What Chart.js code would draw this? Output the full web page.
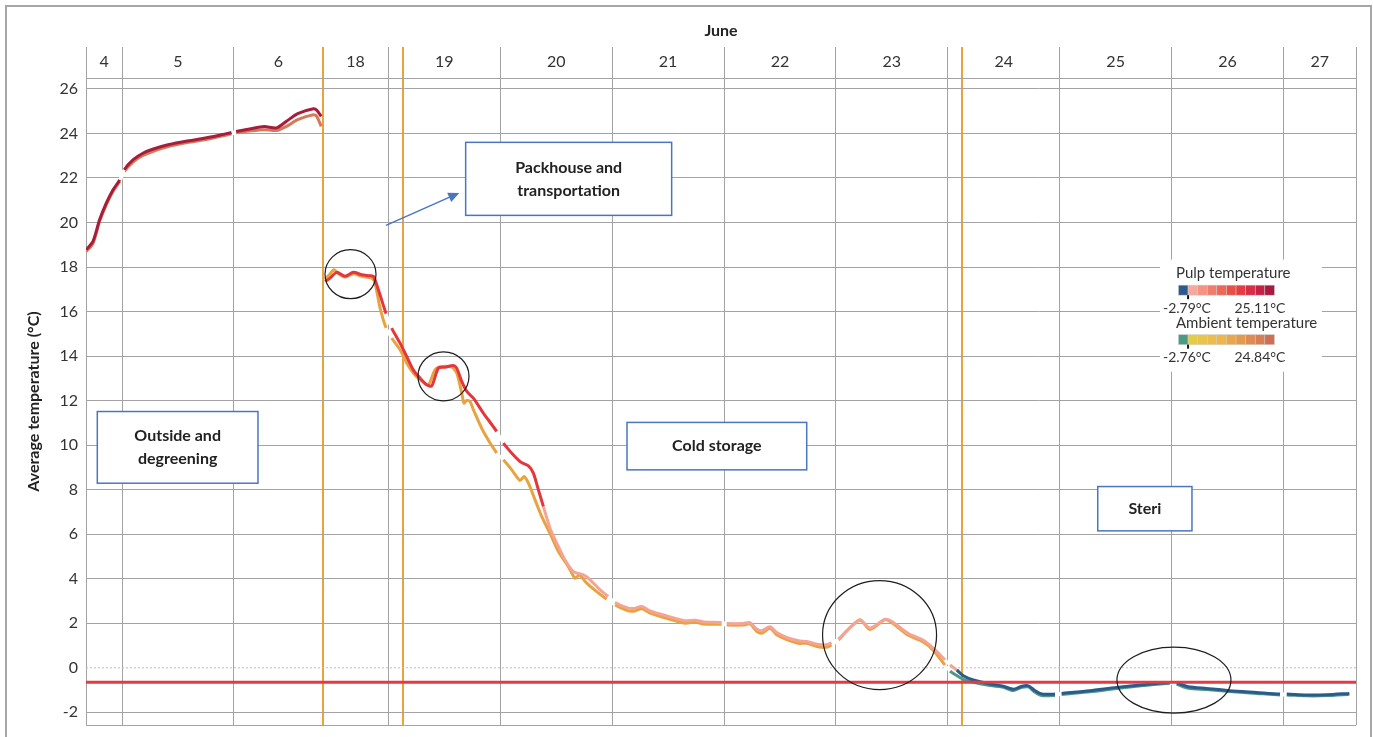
<!DOCTYPE html>
<html>
<head>
<meta charset="utf-8">
<script src="https://cdn.jsdelivr.net/npm/chart.js@4.4.1/dist/chart.umd.min.js"></script>
<style>
  html, body { margin: 0; padding: 0; background: #fff; overflow: hidden; }
  #wrap { position: relative; width: 1373px; height: 737px; }
  #frame { position: absolute; left: 5px; top: 5px; width: 1363px; height: 760px; border: 2px solid #a6a6a6; pointer-events: none; }
</style>
</head>
<body>
<div id="wrap">
  <canvas id="chart"></canvas>
  <div id="frame"></div>
</div>
<script>
// days shown on the header row (June) and which part of each day is on the axis
const dayNumbers = [4, 5, 6, 18, 19, 20, 21, 22, 23, 24, 25, 26, 27];
const dayFrom = [0.678, 0, 0, 0.414, 0, 0, 0, 0, 0, 0, 0, 0, 0];
const dayTo = [1, 1, 0.794, 1, 1, 1, 1, 1, 1, 1, 1, 1, 0.648];

// phase change markers (June day.fraction)
const phaseTimes = [6.794, 19.131, 24.124];
const thresholdTemp = -0.65;
const yTicks = [-2, 0, 2, 4, 6, 8, 10, 12, 14, 16, 18, 20, 22, 24, 26];

// pulp temperature, June day.fraction -> °C
const pulpTimes = [4.68, 4.74, 4.80, 4.86, 4.92, 4.98, 5.02, 5.10, 5.19, 5.28, 5.42, 5.57, 5.72, 5.87, 5.98, 6.02, 6.14, 6.27, 6.38, 6.47, 6.57, 6.71, 6.74, 6.78,
  18.435, 18.479, 18.539, 18.613, 18.688, 18.763, 18.837, 18.867, 18.911, 18.980,
  19.030, 19.105, 19.164, 19.223, 19.283, 19.343, 19.388, 19.447, 19.507, 19.581, 19.611, 19.656, 19.701, 19.760, 19.849, 19.969,
  20.028, 20.177, 20.252, 20.296, 20.341, 20.386, 20.445, 20.505, 20.579, 20.654, 20.743, 20.803, 20.892, 20.966,
  21.026, 21.131, 21.190, 21.265, 21.339, 21.488, 21.652, 21.741, 21.816, 21.980,
  22.024, 22.173, 22.232, 22.292, 22.337, 22.411, 22.471, 22.560, 22.664, 22.739, 22.828, 22.917, 22.962,
  23.021, 23.111, 23.215, 23.305, 23.439, 23.499, 23.573, 23.647, 23.781, 23.871, 23.975,
  24.020, 24.080, 24.139, 24.228, 24.378, 24.497, 24.586, 24.661, 24.720, 24.780, 24.840, 24.959,
  25.017, 25.270, 25.509, 25.747, 25.985,
  26.045, 26.149, 26.313, 26.521, 26.760, 26.969,
  27.029, 27.207, 27.386, 27.588];
const pulpValues = [18.78, 19.15, 20.13, 20.88, 21.47, 21.92, 22.37, 22.82, 23.12, 23.30, 23.50, 23.65, 23.77, 23.92, 24.04, 24.09, 24.20, 24.31, 24.25, 24.55, 24.89, 25.11, 25.05, 24.77,
  17.35, 17.50, 17.76, 17.58, 17.76, 17.65, 17.61, 17.58, 16.98, 15.90,
  15.26, 14.58, 13.98, 13.38, 13.01, 12.71, 12.66, 13.46, 13.50, 13.58, 13.46, 12.86, 12.41, 12.11, 11.44, 10.61,
  10.09, 9.26, 9.07, 8.74, 7.99, 7.24, 6.27, 5.60, 4.84, 4.32, 4.17, 3.95, 3.50, 3.20,
  2.93, 2.70, 2.66, 2.75, 2.56, 2.33, 2.11, 2.14, 2.06, 2.03,
  1.99, 1.99, 2.03, 1.74, 1.66, 1.84, 1.58, 1.36, 1.21, 1.18, 1.06, 1.03, 1.13,
  1.29, 1.74, 2.14, 1.78, 2.18, 2.08, 1.81, 1.54, 1.24, 0.88, 0.35,
  0.13, -0.10, -0.36, -0.55, -0.73, -0.83, -0.96, -0.83, -0.81, -1.03, -1.18, -1.18,
  -1.15, -1.03, -0.88, -0.76, -0.66,
  -0.69, -0.85, -0.93, -1.03, -1.11, -1.18,
  -1.18, -1.22, -1.21, -1.15];

// ambient temperature
const ambientTimes = [4.68, 4.74, 4.80, 4.86, 4.92, 4.98, 5.02, 5.10, 5.19, 5.28, 5.42, 5.57, 5.72, 5.87, 5.98, 6.02, 6.14, 6.27, 6.38, 6.47, 6.57, 6.71, 6.74, 6.78,
  18.435, 18.473, 18.515, 18.553, 18.613, 18.688, 18.763, 18.852, 18.881, 18.926, 18.980,
  19.030, 19.105, 19.164, 19.223, 19.283, 19.357, 19.417, 19.477, 19.567, 19.611, 19.656, 19.676, 19.701, 19.730, 19.760, 19.849, 19.969,
  20.028, 20.103, 20.177, 20.213, 20.252, 20.311, 20.371, 20.445, 20.520, 20.609, 20.669, 20.707, 20.773, 20.862, 20.951,
  21.026, 21.131, 21.190, 21.265, 21.339, 21.488, 21.652, 21.741, 21.816, 21.980,
  22.024, 22.173, 22.232, 22.292, 22.337, 22.411, 22.471, 22.560, 22.664, 22.739, 22.828, 22.917, 22.962,
  23.021, 23.111, 23.215, 23.305, 23.439, 23.499, 23.573, 23.647, 23.781, 23.871, 23.975,
  24.020, 24.080, 24.139, 24.228, 24.378, 24.497, 24.586, 24.661, 24.720, 24.780, 24.840, 24.959,
  25.017, 25.270, 25.509, 25.747, 25.985,
  26.045, 26.149, 26.313, 26.521, 26.760, 26.969,
  27.029, 27.207, 27.386, 27.588];
const ambientValues = [18.70, 19.05, 20.05, 20.80, 21.40, 21.85, 22.28, 22.72, 23.02, 23.20, 23.42, 23.58, 23.70, 23.86, 23.98, 24.03, 24.11, 24.17, 24.13, 24.32, 24.62, 24.84, 24.77, 24.32,
  17.46, 17.65, 17.88, 17.70, 17.55, 17.70, 17.58, 17.50, 17.28, 16.16, 15.26,
  14.81, 14.28, 13.69, 13.24, 12.94, 12.71, 13.38, 13.53, 13.50, 13.24, 12.34, 11.89, 12.01, 11.96, 11.59, 10.61, 9.64,
  9.34, 8.89, 8.41, 8.59, 8.29, 7.54, 6.79, 6.04, 5.22, 4.54, 4.02, 4.17, 3.80, 3.42, 3.08,
  2.82, 2.58, 2.54, 2.65, 2.46, 2.22, 2.00, 2.06, 1.97, 1.95,
  1.92, 1.92, 1.97, 1.64, 1.55, 1.78, 1.48, 1.26, 1.10, 1.10, 0.96, 0.92, 1.02,
  1.24, 1.72, 2.16, 1.72, 2.16, 2.02, 1.74, 1.46, 1.16, 0.78, 0.12,
  -0.15, -0.35, -0.52, -0.65, -0.80, -0.88, -1.02, -0.88, -0.86, -1.10, -1.25, -1.24,
  -1.20, -1.08, -0.93, -0.80, -0.70,
  -0.74, -0.92, -0.98, -1.07, -1.15, -1.22,
  -1.22, -1.26, -1.25, -1.19];

// colour scale legend
const pulpScale = ['#2c5b8b', '#f5a89d', '#f39384', '#f07c6e', '#ed6658', '#e85046', '#e33d43', '#d72d45', '#c42145', '#a9183d'];
const ambientScale = ['#4a9a84', '#e4cc48', '#e8c44c', '#ecbd4c', '#f0b448', '#eaa748', '#e49a4c', '#de8c50', '#d77e52', '#ce6e52'];
const pulpRange = ['-2.79°C', '25.11°C'];
const ambientRange = ['-2.76°C', '24.84°C'];

const FONT = 'Lato';
const gridGray = '#a3a3a3';
const orange = '#e8a23e';

// axis layout: each shown day gets its slice of the x axis
const dayStart = [];
let acc = 0;
dayNumbers.forEach((d, i) => { dayStart.push(acc); acc += dayTo[i] - dayFrom[i]; });
const xMax = acc;
const dayEdges = dayStart.slice(1).concat([xMax]);

function toAxis(t) {
    const d = Math.floor(t);
    const i = dayNumbers.indexOf(d);
    return dayStart[i] + (t - d - dayFrom[i]);
}

const phasePos = phaseTimes.map(toAxis);
const isPhase = v => phasePos.some(p => Math.abs(p - v) < 0.003);
const gridTicks = [0].concat(dayEdges);
phasePos.forEach(p => { if (!gridTicks.some(g => Math.abs(g - p) < 0.003)) gridTicks.push(p); });
gridTicks.sort((a, b) => a - b);

function buildPoints(times, values) {
    const pts = [];
    times.forEach((t, i) => {
        if (i > 0 && t - times[i - 1] > 1) pts.push({ x: toAxis(times[i - 1]) + 0.01, y: null });
        pts.push({ x: toAxis(t), y: values[i] });
    });
    return pts;
}

function pulpColor(v) {
    if (v < 0) return '#2c5b8b';
    if (v < 7.3) return '#f5a393';
    if (v < 18.2) return '#e4363c';
    return '#a81c3c';
}
function ambientColor(v) {
    if (v < 0) return '#4a9a84';
    if (v < 18.2) return '#e9a240';
    return '#d47a58';
}
function segColor(c, fn) {
    const x0 = c.p0.parsed.x, x1 = c.p1.parsed.x;
    if (dayEdges.some(e => e > x0 + 1e-6 && e < x1 - 1e-6)) return '#ffffff';
    return fn((c.p0.parsed.y + c.p1.parsed.y) / 2);
}

// annotations, in axis units (x) and °C (y)
const notes = [
    { lines: ['Outside and', 'degreening'], x0: 0.101, x1: 1.537, y0: 11.51, y1: 8.29 },
    { lines: ['Packhouse and', 'transportation'], x0: 3.393, x1: 5.234, y0: 23.60, y1: 20.32 },
    { lines: ['Cold storage'], x0: 4.835, x1: 6.441, y0: 11.02, y1: 8.89 },
    { lines: ['Steri'], x0: 9.042, x1: 9.884, y0: 8.14, y1: 6.15 }
];
const rings = [
    { x: 2.364, y: 17.68, rx: 25.5, ry: 24.5 },
    { x: 3.195, y: 13.09, rx: 25.5, ry: 24.5 },
    { x: 7.092, y: 1.47, rx: 57, ry: 54.5 },
    { x: 9.723, y: -0.55, rx: 57, ry: 33 }
];
const arrow = { x0: 2.681, y0: 19.87, x1: 3.336, y1: 21.33 };
const legendAnchor = { x: 9.598, y: 18.33 };

const overlay = {
    id: 'overlay',
    afterDraw(chart) {
        const { ctx, chartArea: ca, scales: { x, y } } = chart;
        ctx.save();

        // day numbers in the header row
        ctx.font = '16px ' + FONT;
        ctx.fillStyle = '#333';
        ctx.textAlign = 'center';
        ctx.textBaseline = 'middle';
        dayNumbers.forEach((d, i) => {
            const mid = dayStart[i] + (dayTo[i] - dayFrom[i]) / 2;
            ctx.fillText(String(d), x.getPixelForValue(mid), ca.top - 16);
        });

        // circles
        ctx.strokeStyle = '#1e1e1e';
        ctx.lineWidth = 1.2;
        rings.forEach(r => {
            ctx.beginPath();
            ctx.ellipse(x.getPixelForValue(r.x), y.getPixelForValue(r.y), r.rx, r.ry, 0, 0, Math.PI * 2);
            ctx.stroke();
        });

        // arrow
        const ax0 = x.getPixelForValue(arrow.x0), ay0 = y.getPixelForValue(arrow.y0);
        const ax1 = x.getPixelForValue(arrow.x1), ay1 = y.getPixelForValue(arrow.y1);
        const ang = Math.atan2(ay1 - ay0, ax1 - ax0);
        ctx.strokeStyle = '#4a76c0';
        ctx.fillStyle = '#4a76c0';
        ctx.lineWidth = 1.5;
        ctx.beginPath();
        ctx.moveTo(ax0, ay0);
        ctx.lineTo(ax1 - 8 * Math.cos(ang), ay1 - 8 * Math.sin(ang));
        ctx.stroke();
        ctx.beginPath();
        ctx.moveTo(ax1, ay1);
        ctx.lineTo(ax1 - 11 * Math.cos(ang) + 5 * Math.sin(ang), ay1 - 11 * Math.sin(ang) - 5 * Math.cos(ang));
        ctx.lineTo(ax1 - 11 * Math.cos(ang) - 5 * Math.sin(ang), ay1 - 11 * Math.sin(ang) + 5 * Math.cos(ang));
        ctx.closePath();
        ctx.fill();

        // text boxes
        notes.forEach(n => {
            const l = x.getPixelForValue(n.x0), r = x.getPixelForValue(n.x1);
            const t = y.getPixelForValue(n.y0), b = y.getPixelForValue(n.y1);
            ctx.fillStyle = '#fff';
            ctx.fillRect(l, t, r - l, b - t);
            ctx.strokeStyle = '#4a76c0';
            ctx.lineWidth = 1.5;
            ctx.strokeRect(l, t, r - l, b - t);
            ctx.fillStyle = '#222';
            ctx.font = 'bold 16px ' + FONT;
            const cy = (t + b) / 2;
            n.lines.forEach((s, i) => {
                ctx.fillText(s, (l + r) / 2, cy + (i - (n.lines.length - 1) / 2) * 23);
            });
        });

        // colour scale legend
        const lx = x.getPixelForValue(legendAnchor.x), ly = y.getPixelForValue(legendAnchor.y);
        ctx.fillStyle = '#fff';
        ctx.fillRect(lx, ly, 162, 112);
        const drawBar = (title, colors, range, top) => {
            ctx.fillStyle = '#333';
            ctx.font = '15px ' + FONT;
            ctx.textAlign = 'left';
            ctx.fillText(title, lx + 16, ly + top);
            const bx = lx + 18.5, by = ly + top + 12, cw = 9.6;
            colors.forEach((c, i) => {
                ctx.fillStyle = c;
                ctx.fillRect(bx + i * cw, by, cw, 10);
                ctx.strokeStyle = 'rgba(205,205,205,0.8)';
                ctx.lineWidth = 0.6;
                ctx.strokeRect(bx + i * cw, by, cw, 10);
            });
            ctx.fillStyle = '#111';
            ctx.fillRect(bx + cw - 1, by + 10, 2, 4);
            ctx.fillStyle = '#333';
            ctx.font = '14px ' + FONT;
            ctx.textAlign = 'center';
            ctx.fillText(range[0], lx + 27, by + 23);
            ctx.fillText(range[1], lx + 100, by + 23);
        };
        drawBar('Pulp temperature', pulpScale, pulpRange, 13.5);
        drawBar('Ambient temperature', ambientScale, ambientRange, 63);

        ctx.restore();
    }
};

Chart.defaults.font.family = FONT;

new Chart(document.getElementById('chart'), {
    type: 'line',
    data: {
        datasets: [
            {
                label: 'Threshold',
                data: [{ x: 0, y: thresholdTemp }, { x: xMax, y: thresholdTemp }],
                borderColor: '#e63a42',
                borderWidth: 3,
                pointRadius: 0,
                order: 0
            },
            {
                label: 'Pulp temperature',
                data: buildPoints(pulpTimes, pulpValues),
                borderColor: '#e4363c',
                borderWidth: 3,
                pointRadius: 0,
                tension: 0.25,
                spanGaps: false,
                segment: { borderColor: c => segColor(c, pulpColor) },
                order: 1
            },
            {
                label: 'Ambient temperature',
                data: buildPoints(ambientTimes, ambientValues),
                borderColor: '#e9a240',
                borderWidth: 3,
                pointRadius: 0,
                tension: 0.25,
                spanGaps: false,
                segment: { borderColor: c => segColor(c, ambientColor) },
                order: 2
            },
            {
                label: 'Zero',
                data: [{ x: 0, y: 0 }, { x: xMax, y: 0 }],
                borderColor: '#bdbdbd',
                borderWidth: 1,
                borderDash: [2, 2],
                pointRadius: 0,
                order: 3
            }
        ]
    },
    options: {
        responsive: true,
        maintainAspectRatio: false,
        animation: false,
        layout: { padding: { left: 0, top: 0, right: 17, bottom: 12 } },
        plugins: {
            legend: { display: false },
            tooltip: { enabled: false }
        },
        scales: {
            x: {
                type: 'linear',
                position: 'top',
                min: 0,
                max: xMax,
                afterBuildTicks: s => { s.ticks = gridTicks.map(v => ({ value: v })); },
                ticks: { display: false },
                grid: {
                    color: c => isPhase(c.tick.value) ? orange : gridGray,
                    lineWidth: c => isPhase(c.tick.value) ? 2 : 1,
                    tickColor: c => isPhase(c.tick.value) ? orange : gridGray,
                    tickWidth: c => isPhase(c.tick.value) ? 2 : 1,
                    tickLength: 31,
                    drawTicks: true
                },
                border: { display: true, color: gridGray },
                title: {
                    display: true,
                    text: 'June',
                    color: '#222',
                    font: { size: 16, weight: 'bold' },
                    padding: { top: 21, bottom: 0 }
                },
                afterFit: s => { s.height = 78; s.paddingLeft = 0; s.paddingRight = 0; }
            },
            y: {
                type: 'linear',
                min: -2.57,
                max: 26.49,
                afterBuildTicks: s => { s.ticks = [s.min].concat(yTicks, [s.max]).map(v => ({ value: v })); },
                ticks: {
                    callback: v => yTicks.includes(v) ? String(v) : '',
                    color: '#333',
                    font: { size: 16 },
                    padding: 8
                },
                grid: {
                    color: c => c.tick.value === 0 ? 'rgba(0,0,0,0)' : gridGray,
                    drawTicks: false
                },
                border: { display: true, color: gridGray },
                title: {
                    display: true,
                    text: 'Average temperature (°C)',
                    color: '#222',
                    font: { size: 16, weight: 'bold' },
                    padding: { top: 24, bottom: 0 }
                },
                afterFit: s => { s.width = 86; s.paddingTop = 0; s.paddingBottom = 0; }
            }
        }
    },
    plugins: [overlay]
});
</script>
</body>
</html>
